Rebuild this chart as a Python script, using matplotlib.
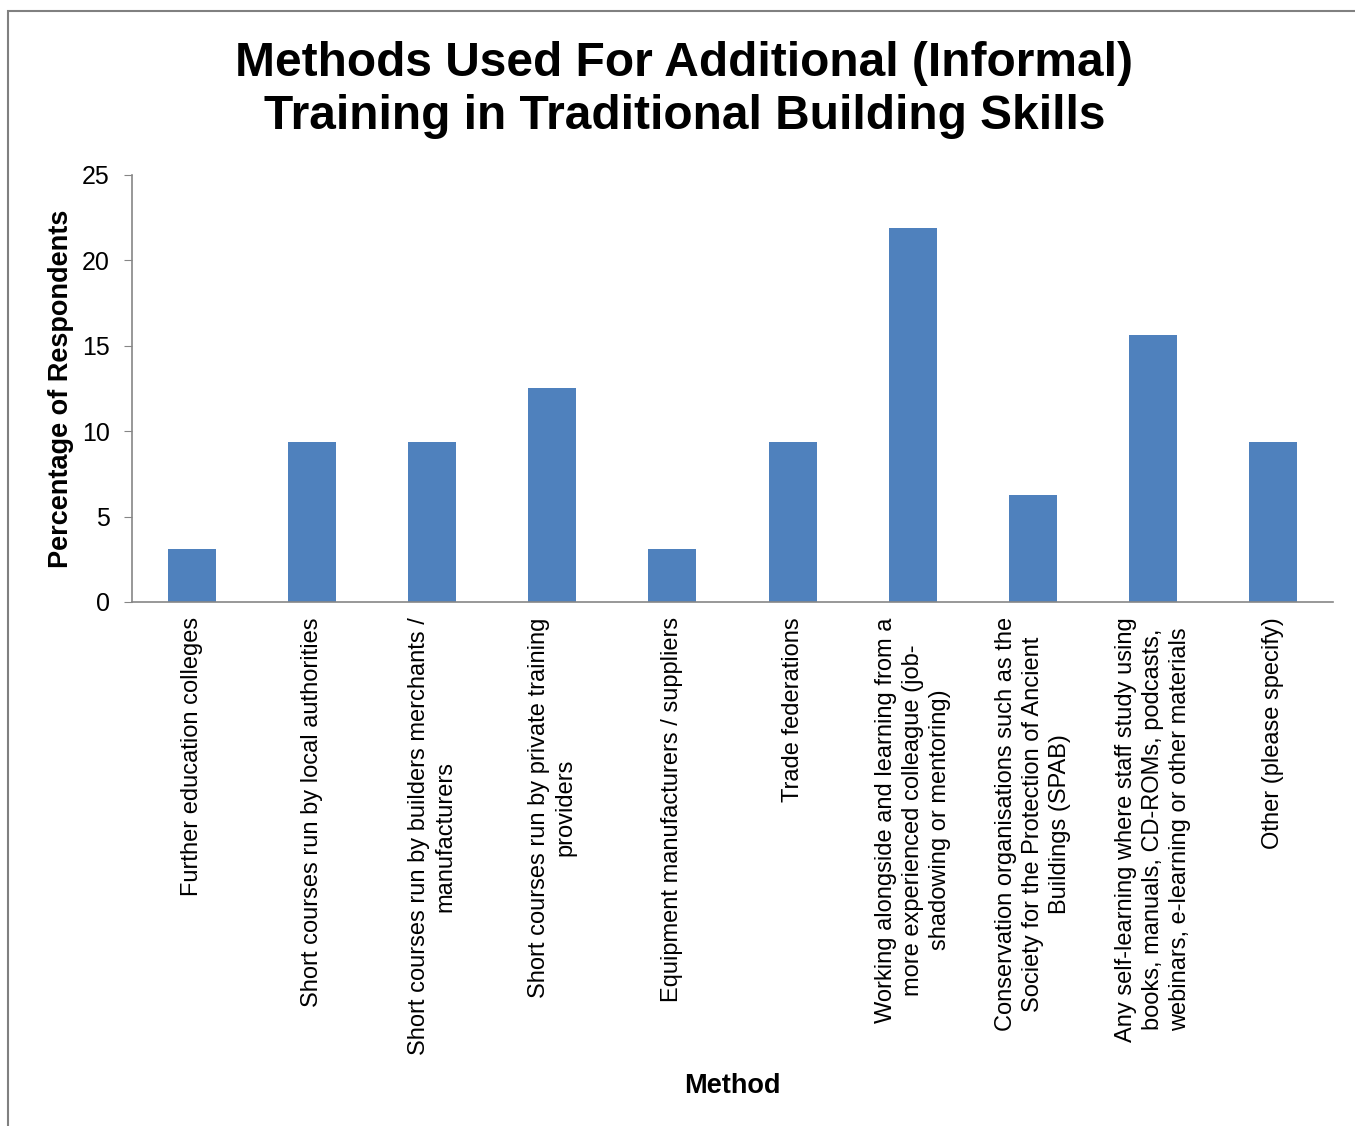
import matplotlib.pyplot as plt
from matplotlib.patches import Rectangle

plt.rcParams['font.family'] = ['Liberation Sans', 'DejaVu Sans']

# Survey results: share of respondents per training method
methods = [
    'Further education colleges',
    'Short courses run by local authorities',
    'Short courses run by builders merchants /\nmanufacturers',
    'Short courses run by private training\nproviders',
    'Equipment manufacturers / suppliers',
    'Trade federations',
    'Working alongside and learning from a\nmore experienced colleague (job-\nshadowing or mentoring)',
    'Conservation organisations such as the\nSociety for the Protection of Ancient\nBuildings (SPAB)',
    'Any self-learning where staff study using\nbooks, manuals, CD-ROMs, podcasts,\nwebinars, e-learning or other materials',
    'Other (please specify)',
]
percentages = [3.125, 9.375, 9.375, 12.5, 3.125, 9.375, 21.875, 6.25, 15.625, 9.375]
y_ticks = [0, 5, 10, 15, 20, 25]

axis_grey = '#868686'

fig = plt.figure(figsize=(13.55, 11.26), dpi=100)
ax = fig.add_axes([0.0974, 0.4654, 0.8864, 0.3792])

x = range(len(methods))
ax.bar(x, percentages, width=0.4, color='#4F81BD', zorder=2)

ax.set_xlim(-0.5, len(methods) - 0.5)
ax.set_ylim(0, 25)
ax.set_yticks(y_ticks)
ax.set_xticks(list(x))
ax.set_xticklabels(methods, rotation=90, ha='center', va='top',
                   multialignment='center', linespacing=1.3)

for side in ['top', 'right']:
    ax.spines[side].set_visible(False)
for side in ['left', 'bottom']:
    ax.spines[side].set_color(axis_grey)
    ax.spines[side].set_linewidth(1.2)

ax.tick_params(axis='y', direction='out', length=6, color=axis_grey,
               labelsize=18, pad=10)
ax.tick_params(axis='x', length=0, labelsize=17, pad=11)

ax.set_ylabel('Percentage of Respondents', fontsize=19.5, fontweight='bold',
              labelpad=6)
ax.set_xlabel('Method', fontsize=19.5, fontweight='bold', labelpad=13)

fig.suptitle('Methods Used For Additional (Informal)\nTraining in Traditional Building Skills',
             x=0.505, y=0.964, fontsize=34.5, fontweight='bold', linespacing=1.25)

# outer chart frame (left and top edges)
fig.patches.append(Rectangle((0.006, -0.1), 1.2, 1.09, transform=fig.transFigure,
                             fill=False, edgecolor='#808080', linewidth=1.5))

fig.savefig('out.png', dpi=100)
